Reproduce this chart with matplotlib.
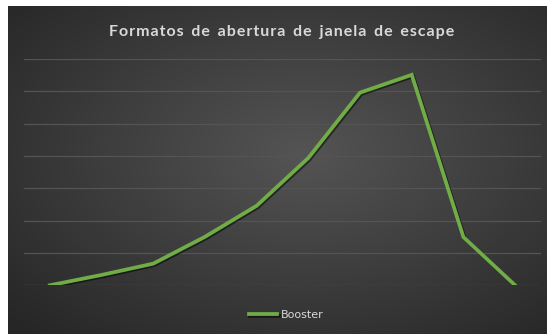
import numpy as np
import matplotlib
matplotlib.use('Agg')
import matplotlib.pyplot as plt
import matplotlib.patheffects as pe

# dados
categorias = list(range(1, 11))
booster = [0.0, 0.32, 0.67, 1.5, 2.46, 3.94, 5.96, 6.51, 1.49, 0.0]
titulo = 'Formatos de abertura de janela de escape'
serie_nome = 'Booster'

W, H = 547, 334
fig = plt.figure(figsize=(W / 100, H / 100), dpi=100)
fig.patch.set_facecolor('white')

# fundo com gradiente radial (estilo Excel)
bg = fig.add_axes([8 / W, 0, (W - 8) / W, (H - 6) / H])
bg.set_axis_off()
yy, xx = np.mgrid[0:1:200j, 0:1:300j]
r = np.sqrt(((xx - 0.55) / 0.75) ** 2 + ((yy - 0.45) / 0.75) ** 2)
r = np.clip(r, 0, 1)
c_in = np.array([0.33, 0.33, 0.33])
c_out = np.array([0.15, 0.15, 0.15])
img = c_in[None, None, :] * (1 - r[..., None]) + c_out[None, None, :] * r[..., None]
bg.imshow(img, aspect='auto', extent=[0, 1, 0, 1])

ax = fig.add_axes([24 / W, (H - 285.3) / H, (541 - 24) / W, (285.3 - 59) / H])
ax.patch.set_alpha(0)
x = np.arange(len(categorias))
linha, = ax.plot(x, booster, color='#70ad47', lw=2.7, solid_joinstyle='miter',
                 label=serie_nome, zorder=3)
linha.set_path_effects([pe.SimpleLineShadow(offset=(1, -1), shadow_color='black', alpha=0.5),
                        pe.Normal()])
ax.set_xlim(-0.5, len(categorias) - 0.5)
ax.set_ylim(0, 7)
ax.set_yticks(range(0, 8))
ax.set_xticks([])
ax.tick_params(left=False, labelleft=False)
ax.grid(axis='y', color='#545454', lw=0.9)
for s in ax.spines.values():
    s.set_visible(False)

# titulo com espaçamento entre letras
titulo_esp = '\u200a'.join(titulo).replace('\u200a \u200a', '  ')
fig.text(282 / W, 1 - 32 / H, titulo_esp, ha='center', va='center', color='#d9d9d9',
         fontsize=11.5, fontweight='bold', family=['Lato', 'DejaVu Sans'])

leg = fig.legend(handles=[linha], loc='center', bbox_to_anchor=(286 / W, 1 - 315 / H),
                 frameon=False, fontsize=8, labelcolor='#d9d9d9', handlelength=2.6,
                 handletextpad=0.3)

fig.savefig('out.png', dpi=100, facecolor=fig.get_facecolor())
